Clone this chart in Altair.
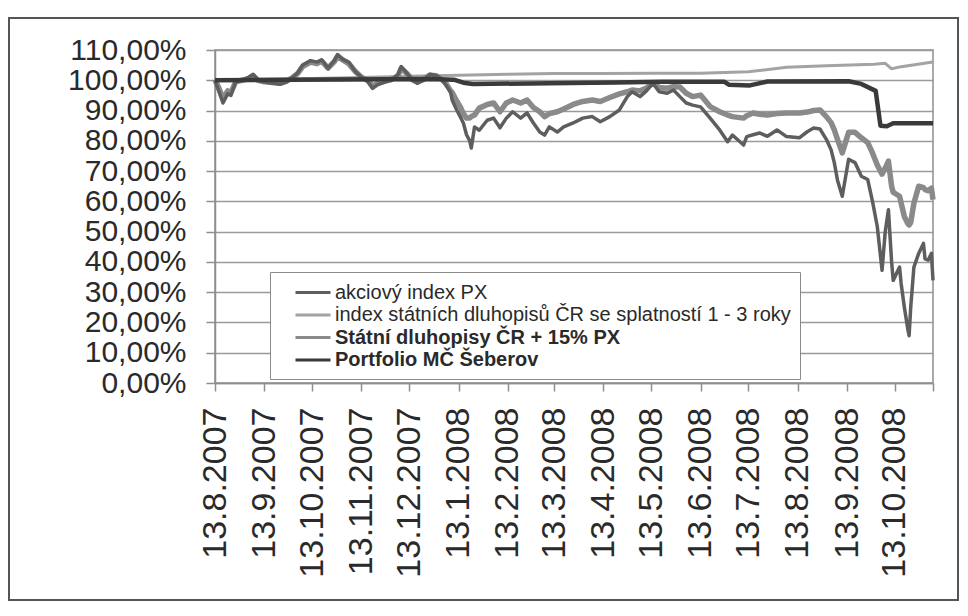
import altair as alt
import pandas as pd

# ---- data ----
series_names = [
    "akciový index PX",
    "index státních dluhopisů ČR se splatností 1 - 3 roky",
    "Státní dluhopisy ČR + 15% PX",
    "Portfolio MČ Šeberov",
]
series_colors = ["#5e5e5e", "#a3a3a3", "#8a8a8a", "#3a3a3a"]

px_dates = [
    "2007-08-13", "2007-08-15", "2007-08-18", "2007-08-21", "2007-08-23", "2007-08-26",
    "2007-08-30", "2007-09-03", "2007-09-06", "2007-09-09", "2007-09-13", "2007-09-18",
    "2007-09-23", "2007-09-27", "2007-10-01", "2007-10-04", "2007-10-07", "2007-10-12",
    "2007-10-16", "2007-10-19", "2007-10-23", "2007-10-27", "2007-10-29", "2007-11-01",
    "2007-11-05", "2007-11-09", "2007-11-13", "2007-11-17", "2007-11-20", "2007-11-23",
    "2007-11-28", "2007-12-02", "2007-12-06", "2007-12-08", "2007-12-12", "2007-12-15",
    "2007-12-18", "2007-12-22", "2007-12-26", "2007-12-30", "2008-01-02", "2008-01-05",
    "2008-01-08", "2008-01-09", "2008-01-12", "2008-01-14", "2008-01-16", "2008-01-18",
    "2008-01-20", "2008-01-21", "2008-01-23", "2008-01-26", "2008-01-31", "2008-02-04",
    "2008-02-08", "2008-02-12", "2008-02-16", "2008-02-21", "2008-02-25", "2008-02-29",
    "2008-03-04", "2008-03-07", "2008-03-10", "2008-03-15", "2008-03-19", "2008-03-25",
    "2008-03-31", "2008-04-06", "2008-04-11", "2008-04-17", "2008-04-23", "2008-04-28",
    "2008-05-01", "2008-05-06", "2008-05-10", "2008-05-14", "2008-05-18", "2008-05-23",
    "2008-05-27", "2008-05-31", "2008-06-04", "2008-06-08", "2008-06-13", "2008-06-19",
    "2008-06-25", "2008-06-30", "2008-07-03", "2008-07-10", "2008-07-12", "2008-07-16",
    "2008-07-20", "2008-07-25", "2008-07-31", "2008-08-06", "2008-08-14", "2008-08-19",
    "2008-08-23", "2008-08-27", "2008-08-31", "2008-09-03", "2008-09-05", "2008-09-07",
    "2008-09-10", "2008-09-14", "2008-09-18", "2008-09-22", "2008-09-26", "2008-09-29",
    "2008-10-02", "2008-10-05", "2008-10-07", "2008-10-09", "2008-10-11", "2008-10-12",
    "2008-10-16", "2008-10-17", "2008-10-19", "2008-10-21", "2008-10-22", "2008-10-23",
    "2008-10-25", "2008-10-28", "2008-10-31", "2008-11-01", "2008-11-03", "2008-11-05",
    "2008-11-06",
]
px_values = [
    100, 97, 92.5, 95.5, 95, 99.5,
    100, 101, 102, 100, 99.5, 99,
    98.7, 99.5, 101, 102.5, 105, 106.5,
    106, 106.8, 104, 106.5, 108.5, 107,
    106, 103, 101, 99.5, 97.3, 98.5,
    99.5, 100, 102, 104.5, 102, 100,
    99, 100, 102, 101.5, 100.5, 98.5,
    96, 93.4, 90, 88, 85.9, 82,
    80, 77.6, 84.6, 83.5, 86.8, 87.5,
    84.3, 87.5, 89.6, 87.5, 89.2, 85.9,
    82.9, 81.9, 84.6, 82.9, 84.6, 85.9,
    87.5, 88, 86.3, 88, 90.2, 94.6,
    96.2, 94.6, 96.5, 99, 96.2, 95.7,
    96.8, 94.6, 92.5, 91.8, 91.2, 87.5,
    83.6, 79.7, 81.9, 78.6, 81.4, 82,
    82.6, 81.5, 83.6, 81.4, 81, 83,
    84.2, 83.9, 80.5, 77, 72.8, 67,
    61.7, 73.9, 72.8, 68.3, 67.2, 60,
    51.7, 37.2, 50, 57.2, 40, 33.9,
    38.3, 32.8, 25, 18.3, 15.6, 25,
    38.3, 42.8, 46.1, 41, 40.6, 42.8,
    33.9,
]
mix_values = [
    100, 98, 94, 96.5, 96, 99.5,
    100, 100.5, 101.5, 100, 99.5, 99.3,
    99, 99.7, 101, 102.3, 104.5, 106,
    105.5, 106.3, 104, 106.2, 108, 106.8,
    105.5, 103, 101, 100, 98, 99,
    99.7, 100.3, 101.5, 104, 102, 100.2,
    99.5, 100.3, 101.7, 101.5, 100.5, 99,
    96.5, 95.9, 93, 91.3, 89, 87.5,
    87.5, 88, 88.5, 90.8, 92, 92.5,
    89.6, 92.5, 93.5, 92.5, 93.5, 91,
    89.6, 88, 89, 89.6, 90.5, 92,
    93, 93.5, 93, 94.3, 95.5, 96.2,
    96.8, 96.5, 97.4, 99, 97.6, 97.4,
    97.9, 97.8, 95.7, 94.6, 95.1, 91.3,
    89.6, 88.5, 88, 87.5, 88.3, 89.2,
    88.8, 88.5, 89, 89.2, 89.2, 89.5,
    90, 90.2, 88, 86, 83.6, 80.5,
    76, 82.8, 82.8, 81, 79.4, 76,
    72, 69, 71, 73.3, 65, 63,
    61.7, 59.4, 55, 52.8, 52.2, 53,
    59.4, 65, 64.5, 63.9, 63.5, 64.4,
    60.6,
]

bond_dates = [
    "2007-08-13", "2007-09-13", "2007-10-13", "2007-11-13", "2007-12-13", "2008-01-13",
    "2008-02-13", "2008-03-13", "2008-04-13", "2008-05-13", "2008-06-13", "2008-07-13",
    "2008-08-06", "2008-08-31", "2008-09-30", "2008-10-07", "2008-10-11", "2008-10-17",
    "2008-11-06",
]
bond_values = [
    100, 100.3, 100.6, 100.9, 101.3, 101.7,
    102, 102.2, 102.2, 102.3, 102.3, 102.8,
    104.3, 104.8, 105.3, 105.6, 103.8, 104.5,
    106,
]

portfolio_dates = [
    "2007-08-13", "2007-10-01", "2007-12-26", "2008-01-10", "2008-01-16", "2008-01-22",
    "2008-03-10", "2008-04-20", "2008-05-20", "2008-06-28", "2008-07-01", "2008-07-14",
    "2008-07-25", "2008-09-14", "2008-09-22", "2008-10-01", "2008-10-04", "2008-10-08",
    "2008-10-12", "2008-11-06",
]
portfolio_values = [
    100, 100.2, 100.4, 100.2, 99.2, 98.8,
    99, 99.3, 99.5, 99.5, 98.5, 98.3,
    99.6, 99.7, 98.8, 96.5, 85, 84.8,
    85.8, 85.8,
]

tick_dates = [
    (2007, 8), (2007, 9), (2007, 10), (2007, 11), (2007, 12),
    (2008, 1), (2008, 2), (2008, 3), (2008, 4), (2008, 5),
    (2008, 6), (2008, 7), (2008, 8), (2008, 9), (2008, 10),
]
y_ticks = [0, 10, 20, 30, 40, 50, 60, 70, 80, 90, 100, 110]

# ---- build tables ----
frames = [
    pd.DataFrame({"date": px_dates, "value": px_values, "series": series_names[0]}),
    pd.DataFrame({"date": bond_dates, "value": bond_values, "series": series_names[1]}),
    pd.DataFrame({"date": px_dates, "value": mix_values, "series": series_names[2]}),
    pd.DataFrame({"date": portfolio_dates, "value": portfolio_values, "series": series_names[3]}),
]
df = pd.concat(frames, ignore_index=True)

FONT = "Liberation Sans"
W, H = 718, 333

x_values = [alt.DateTime(year=y, month=m, date=13) for (y, m) in tick_dates]
x_values.append(alt.DateTime(year=2008, month=11, date=6))

x_enc = alt.X(
    "date:T",
    scale=alt.Scale(domain=[alt.DateTime(year=2007, month=8, date=13),
                            alt.DateTime(year=2008, month=11, date=6)]),
    axis=alt.Axis(
        values=x_values,
        labelExpr="datum.value > datetime(2008, 9, 25) ? '' : timeFormat(datum.value, '%-d.%-m.%Y')",
        labelAngle=-90,
        labelFontSize=34,
        labelPadding=16,
        tickSize=8,
        grid=False,
        title=None,
        labelOverlap=False,
    ),
)
y_enc = alt.Y(
    "value:Q",
    scale=alt.Scale(domain=[0, 110], nice=False),
    axis=alt.Axis(
        values=y_ticks,
        labelExpr="replace(format(datum.value, '.2f'), '.', ',') + '%'",
        labelFontSize=30,
        labelPadding=20,
        tickSize=9,
        grid=True,
        title=None,
        labelOverlap=False,
    ),
)
color_enc = alt.Color(
    "series:N",
    scale=alt.Scale(domain=series_names, range=series_colors),
    legend=alt.Legend(
        title=None,
        orient="none",
        legendX=55,
        legendY=222,
        symbolType="M0.5,0L4,0",
        symbolSize=400,
        symbolStrokeWidth=3,
        labelFontSize=20,
        labelFont=FONT,
        labelColor="#2a2a2a",
        labelOffset=33,
        labelLimit=700,
        labelFontWeight=alt.ExprRef(
            "indexof(['Státní dluhopisy ČR + 15% PX', 'Portfolio MČ Šeberov'], datum.value) >= 0 ? 'bold' : 'normal'"
        ),
        fillColor="white",
        strokeColor="#8a8a8a",
        padding=9,
        rowPadding=0.5,
    ),
)

draw_order = [(series_names[1], 3), (series_names[2], 5.5), (series_names[0], 3.5), (series_names[3], 4.5)]
layers = []
for name, w in draw_order:
    layers.append(
        alt.Chart(df)
        .transform_filter(alt.datum.series == name)
        .mark_line(strokeWidth=w, strokeJoin="round")
        .encode(x=x_enc, y=y_enc, color=color_enc)
    )

frame = alt.Chart(pd.DataFrame({"k": [0]})).mark_rect(
    fill=None, stroke="#555555", strokeWidth=2
).encode(
    x=alt.value(-206), x2=alt.value(W + 25),
    y=alt.value(-32), y2=alt.value(H + 217),
)

chart = (
    alt.layer(frame, *layers)
    .properties(
        width=W,
        height=H,
        padding={"left": 207, "top": 42, "right": 27, "bottom": 220},
        autosize=alt.AutoSizeParams(type="none"),
        background="white",
    )
    .configure_view(stroke="#8f8f8f", strokeWidth=1.5)
    .configure_axis(
        labelFont=FONT,
        labelColor="#2a2a2a",
        domainColor="#8f8f8f",
        domainWidth=1.5,
        tickColor="#8f8f8f",
        tickWidth=1.5,
        gridColor="#9a9a9a",
        gridWidth=1.5,
    )
)

chart.save("out.html", embed_options={"renderer": "svg", "actions": False})
